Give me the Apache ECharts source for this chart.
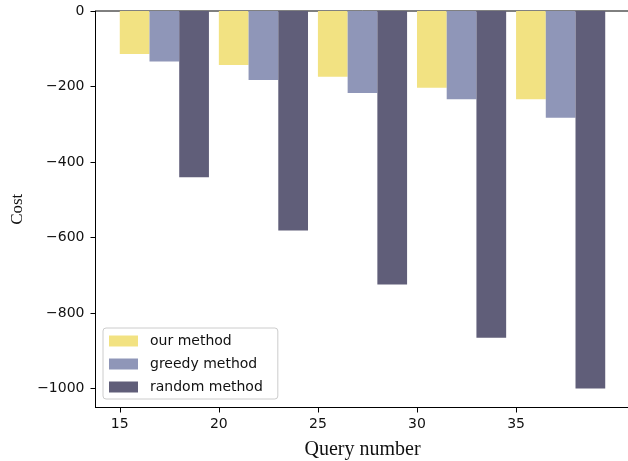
<!DOCTYPE html>
<html>
<head>
<meta charset="utf-8">
<script src="https://cdn.jsdelivr.net/npm/echarts@6/dist/echarts.min.js"></script>
<style>
  html, body { margin: 0; padding: 0; background: #fff; }
  #chart { width: 628px; height: 461px; }
</style>
</head>
<body>
<div id="chart"></div>
<script>
// ---- data ----
const queryNumbers = [15, 20, 25, 30, 35];
const ourMethod = [-114, -143, -174, -203, -234];
const greedyMethod = [-134, -183, -217, -234, -283];
const randomMethod = [-440, -581, -724, -865, -1000];
const xTicks = [15, 20, 25, 30, 35];
const yTicks = [0, -200, -400, -600, -800, -1000];
const seriesNames = ['our method', 'greedy method', 'random method'];

// ---- layout ----
const xMin = 13.775, xMax = 40.725;
const yMin = -1050, yMax = 0;
const gridLeft = 95.5, gridTop = 11, gridWidth = 534, gridHeight = 396.5;
const pxPerUnit = gridWidth / (xMax - xMin);
const barUnits = 1.5;
const barW = barUnits * pxPerUnit;
const groupCenterOffset = barUnits * 1.5;

const colors = ['#f2e282', '#8f96b8', '#605e79'];
const fmt = v => String(v).replace('-', '\u2212');

function mk(name, vals, color) {
  return {
    name: name,
    type: 'bar',
    barWidth: barW,
    barGap: '0%',
    itemStyle: { color: color },
    data: queryNumbers.map((q, i) => [q + groupCenterOffset, vals[i]])
  };
}

const chart = echarts.init(document.getElementById('chart'), null, { renderer: 'canvas' });
chart.setOption({
  animation: false,
  backgroundColor: '#fff',
  grid: {
    left: gridLeft, top: gridTop, width: gridWidth, height: gridHeight,
    outerBoundsMode: 'none',
    containLabel: false,
    show: true, borderColor: '#000', borderWidth: 1, backgroundColor: 'transparent'
  },
  legend: {
    orient: 'vertical',
    left: 103, top: 328,
    padding: [6, 15, 5, 6],
    itemWidth: 29, itemHeight: 11,
    itemGap: 9,
    icon: 'rect',
    backgroundColor: 'rgba(255,255,255,0.8)',
    borderColor: '#cccccc', borderWidth: 1, borderRadius: 3,
    textStyle: { fontFamily: 'DejaVu Sans', fontSize: 14, color: '#111', padding: [0, 0, 0, 7] },
    data: seriesNames,
    itemStyle: { borderWidth: 0 }
  },
  xAxis: {
    type: 'value',
    min: xMin, max: xMax,
    name: 'Query number',
    nameLocation: 'middle',
    nameGap: 32,
    nameTextStyle: { fontFamily: 'Liberation Serif', fontSize: 20, color: '#111' },
    splitLine: { show: false },
    axisLine: { show: true, onZero: false, lineStyle: { color: '#000', width: 1 } },
    axisTick: { show: true, customValues: xTicks, length: 5, inside: false, lineStyle: { color: '#000' } },
    axisLabel: { customValues: xTicks, margin: 10, fontFamily: 'DejaVu Sans', fontSize: 14, color: '#111', formatter: fmt }
  },
  yAxis: {
    type: 'value',
    min: yMin, max: yMax,
    name: 'Cost',
    nameLocation: 'middle',
    nameGap: 69,
    nameRotate: 90,
    nameTextStyle: { fontFamily: 'Liberation Serif', fontSize: 17, color: '#111' },
    splitLine: { show: false },
    axisLine: { show: true, onZero: false, lineStyle: { color: '#000', width: 1 } },
    axisTick: { show: true, customValues: yTicks, length: 5, inside: false, lineStyle: { color: '#000' } },
    axisLabel: { customValues: yTicks, margin: 11, fontFamily: 'DejaVu Sans', fontSize: 14, color: '#111', formatter: fmt }
  },
  series: [
    mk(seriesNames[0], ourMethod, colors[0]),
    mk(seriesNames[1], greedyMethod, colors[1]),
    mk(seriesNames[2], randomMethod, colors[2])
  ]
});
</script>
</body>
</html>
